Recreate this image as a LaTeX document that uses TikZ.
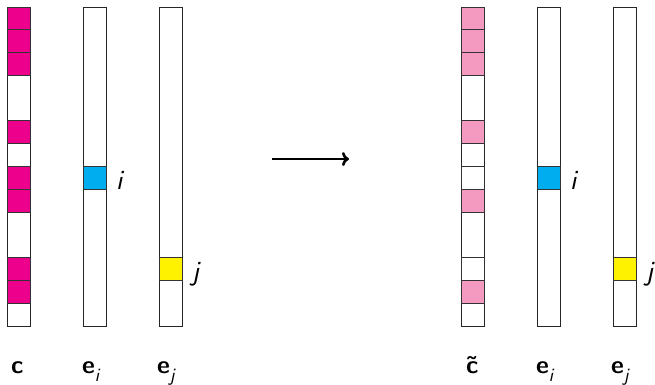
\documentclass[tikz,border=0pt]{standalone}
\usetikzlibrary{arrows.meta}
\renewcommand{\familydefault}{\sfdefault}
\definecolor{magentaC}{HTML}{EC008C}
\definecolor{pinkC}{HTML}{F49AC1}
\definecolor{blueC}{HTML}{00AEEF}
\definecolor{yellowC}{HTML}{FFF200}
\tikzset{
  column/.style={draw=black!85, line width=1pt, fill=white},
  cell/.style={draw=black!80, line width=1pt},
  veclabel/.style={anchor=base west, inner sep=0pt, font=\fontsize{25}{28}\selectfont},
  idxlabel/.style={anchor=base west, inner sep=0pt, font=\fontsize{28}{32}\selectfont\itshape},
}
% italic index set below the baseline
\newcommand{\idx}[1]{\raisebox{-8pt}{\fontsize{19}{22}\selectfont\itshape #1}}
% column geometry: top, cell height, cell width
\newcommand{\coltop}{7}
\newcommand{\cellh}{22.786}
\newcommand{\cellw}{23}
% \vcol{x}{name}: an empty vector of 14 cells
\newcommand{\vcol}[2]{%
  \draw[column] (#1,\coltop) rectangle ++(\cellw,14*\cellh) coordinate (#2);}
% \vcell{x}{k}{style}: cell number k of the column at x
\newcommand{\vcell}[3]{%
  \draw[cell,#3] (#1,\coltop+#2*\cellh) rectangle ++(\cellw,\cellh);}
\begin{document}
\begin{tikzpicture}[x=1pt,y=-1pt]
  \useasboundingbox (0,0) rectangle (655,384);

  % ---- left: c, e_i, e_j ----
  \vcol{7}{c}
  \foreach \k in {0,1,2,5,7,8,11,12} {\vcell{7}{\k}{fill=magentaC}}
  \vcol{83}{ei}
  \vcell{83}{7}{fill=blueC}
  \vcol{159}{ej}
  \vcell{159}{11}{fill=yellowC}

  \node[idxlabel] (li) at (116,189) {i};
  \node[idxlabel] (lj) at (192,280) {j};

  \node[veclabel] (lc)  at (11,373) {\textbf{c}};
  \node[veclabel] (lei) at (82,373) {\textbf{e}\idx{i}};
  \node[veclabel] (lej) at (157,373) {\textbf{e}\idx{j}};

  % ---- arrow ----
  \coordinate (arrL) at (272,159);
  \coordinate (arrR) at (349,159);
  \draw[line width=2.6pt, -{To[length=7pt,width=14pt]}] (arrL) -- (arrR);

  % ---- right: c tilde, e_i, e_j ----
  \vcol{461}{ct}
  \foreach \k in {0,1,2,5,8,12} {\vcell{461}{\k}{fill=pinkC}}
  \foreach \k in {7,11} {\vcell{461}{\k}{fill=white}}
  \vcol{537}{ei2}
  \vcell{537}{7}{fill=blueC}
  \vcol{613}{ej2}
  \vcell{613}{11}{fill=yellowC}

  \node[idxlabel] (ri) at (570,189) {i};
  \node[idxlabel] (rj) at (646,280) {j};

  \node[veclabel] (rc)  at (466,373) {\textbf{\~{c}}};
  \node[veclabel] (rei) at (536,373) {\textbf{e}\idx{i}};
  \node[veclabel] (rej) at (611,373) {\textbf{e}\idx{j}};
\end{tikzpicture}
\end{document}
